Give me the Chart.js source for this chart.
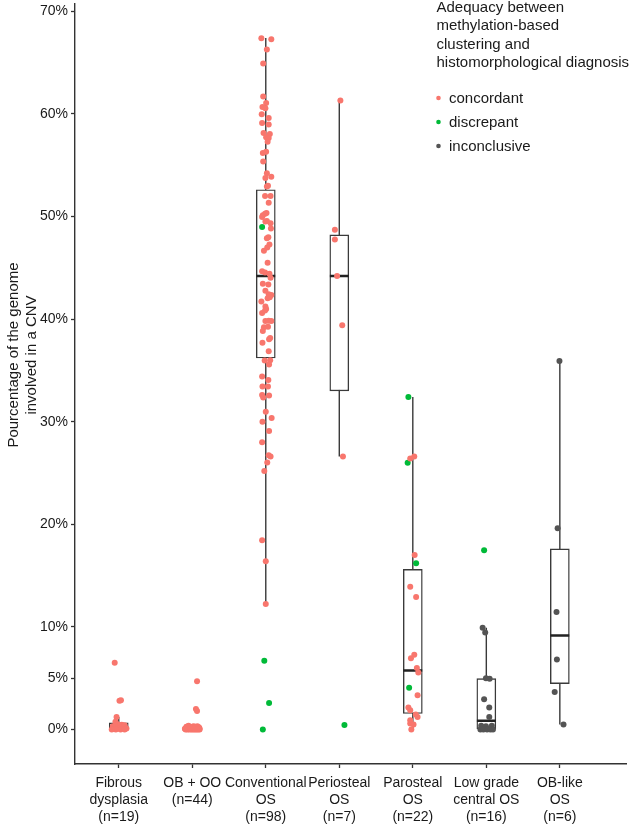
<!DOCTYPE html>
<html>
<head>
<meta charset="utf-8">
<script src="https://cdn.jsdelivr.net/npm/chart.js@4/dist/chart.umd.min.js"></script>
<style>
  html, body { margin: 0; padding: 0; background: #fff; }
  #wrap { width: 630px; height: 824px; }
</style>
</head>
<body>
<div id="wrap"><canvas id="cnv" width="630" height="824"></canvas></div>
<script>
// categories and axis ticks
const categories = [
  ['Fibrous', 'dysplasia', '(n=19)'],
  ['OB + OO', '(n=44)'],
  ['Conventional', 'OS', '(n=98)'],
  ['Periosteal', 'OS', '(n=7)'],
  ['Parosteal', 'OS', '(n=22)'],
  ['Low grade', 'central OS', '(n=16)'],
  ['OB-like', 'OS', '(n=6)'],
];
const yTicks = [0, 5, 10, 20, 30, 40, 50, 60, 70];

// box statistics (% of genome)
const boxQ1 = [0, 0, 36.2, 33.0, 1.55, 0, 4.46];
const boxMedian = [0.08, 0.03, 44.2, 44.2, 5.75, 0.84, 9.15];
const boxQ3 = [0.64, 0.12, 52.6, 48.2, 15.6, 4.95, 17.6];
const whiskerLow = [0, 0, 12.2, 26.6, 0, 0, 0.48];
const whiskerHigh = [1.2, 0.3, 67.4, 61.3, 32.4, 9.92, 35.9];

// samples: [value, jitter, status]  c = concordant, d = discrepant, i = inconclusive
const fibrousPts = [
  [6.5, -0.055, 'c'], [2.8, 0.01, 'c'], [2.85, 0.03, 'c'], [1.2, -0.03, 'c'], [0.75, -0.045, 'c'],
  [0.5, -0.015, 'c'], [0.45, 0.04, 'c'], [0.4, 0.08, 'c'], [0.3, -0.08, 'c'], [0.3, 0.01, 'c'],
  [0.2, -0.04, 'c'], [0.2, 0.065, 'c'], [0.1, -0.015, 'c'], [0.1, 0.105, 'c'], [0.05, -0.07, 'c'],
  [0, 0.025, 'c'], [0, -0.04, 'c'], [0, 0.08, 'c'], [0, -0.095, 'c'],
];
const obooPts = [
  [4.7, 0.065, 'c'], [2.0, 0.05, 'c'], [1.8, 0.065, 'c'],
  [0.35, -0.05, 'c'], [0.3, 0.02, 'c'], [0.3, 0.07, 'c'], [0.25, -0.08, 'c'], [0.25, 0.0, 'c'],
  [0.2, -0.03, 'c'], [0.2, 0.05, 'c'], [0.2, 0.09, 'c'], [0.15, -0.06, 'c'], [0.15, 0.03, 'c'],
  [0.1, -0.09, 'c'], [0.1, -0.01, 'c'], [0.1, 0.06, 'c'], [0.08, 0.1, 'c'], [0.05, -0.07, 'c'],
  [0.05, 0.01, 'c'], [0.05, 0.04, 'c'], [0.05, 0.08, 'c'], [0.03, -0.04, 'c'], [0.02, 0.0, 'c'],
  [0.02, 0.06, 'c'], [0, -0.09, 'c'], [0, -0.06, 'c'], [0, -0.03, 'c'], [0, 0.0, 'c'],
  [0, 0.03, 'c'], [0, 0.05, 'c'], [0, 0.08, 'c'], [0, 0.1, 'c'], [0.01, -0.08, 'c'],
  [0.01, -0.05, 'c'], [0.01, -0.02, 'c'], [0.01, 0.02, 'c'], [0.01, 0.07, 'c'], [0.12, 0.08, 'c'],
  [0.18, -0.02, 'c'], [0.22, 0.04, 'c'], [0.28, -0.06, 'c'], [0.06, -0.1, 'c'], [0.04, 0.09, 'c'],
  [0.07, 0.03, 'c'],
];
const conventionalPts = [
  [67.37, -0.06, 'c'], [67.27, 0.075, 'c'], [66.27, 0.015, 'c'], [64.92, -0.035, 'c'], [61.69, -0.035, 'c'],
  [61.07, 0.005, 'c'], [60.68, -0.045, 'c'], [60.55, -0.005, 'c'], [59.97, -0.055, 'c'], [59.61, 0.04, 'c'],
  [59.1, -0.05, 'c'], [58.97, 0.04, 'c'], [58.13, -0.03, 'c'], [58.03, 0.055, 'c'], [57.71, 0.005, 'c'],
  [57.64, 0.04, 'c'], [57.28, 0.025, 'c'], [56.19, -0.04, 'c'], [56.31, 0.005, 'c'], [55.35, -0.035, 'c'],
  [54.22, 0.015, 'c'], [53.76, -0.005, 'c'], [53.86, 0.075, 'c'], [52.92, 0.015, 'c'], [52.99, 0.03, 'c'],
  [51.99, -0.01, 'c'], [51.99, 0.065, 'c'], [51.34, 0.04, 'c'], [50.11, -0.04, 'c'], [50.27, -0.01, 'c'],
  [50.34, 0.01, 'c'], [49.95, -0.05, 'c'], [48.98, -0.05, 'd'], [49.5, -0.005, 'c'], [49.56, 0.015, 'c'],
  [49.33, 0.065, 'c'], [48.82, 0.07, 'c'], [47.88, 0.015, 'c'], [47.97, 0.035, 'c'], [47.27, 0.05, 'c'],
  [46.97, 0.02, 'c'], [46.65, -0.025, 'c'], [45.5, 0.025, 'c'], [44.65, -0.05, 'c'], [44.55, -0.01, 'c'],
  [44.42, 0.05, 'c'], [44.03, 0.065, 'c'], [43.45, -0.04, 'c'], [43.38, 0.035, 'c'], [42.77, -0.005, 'c'],
  [42.42, 0.04, 'c'], [42.35, 0.075, 'c'], [42.03, 0.025, 'c'], [42.12, 0.055, 'c'], [41.7, -0.06, 'c'],
  [41.22, -0.005, 'c'], [40.99, 0.005, 'c'], [40.6, -0.05, 'c'], [40.83, -0.01, 'c'], [39.8, -0.005, 'c'],
  [39.83, 0.04, 'c'], [39.8, 0.075, 'c'], [39.21, -0.025, 'c'], [39.24, 0.03, 'c'], [38.83, -0.04, 'c'],
  [38.02, 0.045, 'c'], [38.15, 0.06, 'c'], [37.69, -0.045, 'c'], [36.86, 0.04, 'c'], [35.95, -0.015, 'c'],
  [35.98, 0.06, 'c'], [35.56, 0.045, 'c'], [34.39, -0.05, 'c'], [34.07, 0.035, 'c'], [33.42, -0.045, 'c'],
  [33.42, 0.03, 'c'], [32.59, -0.05, 'c'], [32.36, -0.035, 'c'], [32.55, 0.045, 'c'], [30.97, 0.0, 'c'],
  [30.36, 0.08, 'c'], [30.0, -0.045, 'c'], [29.1, 0.045, 'c'], [27.99, -0.05, 'c'], [26.73, 0.04, 'c'],
  [26.61, 0.065, 'c'], [26.02, 0.02, 'c'], [25.18, -0.02, 'c'], [18.43, -0.05, 'c'], [16.39, 0.0, 'c'],
  [12.22, 0.0, 'c'], [6.69, -0.02, 'd'], [2.58, 0.045, 'd'], [0.0, -0.04, 'd'],
];
const periostealPts = [
  [61.3, 0.015, 'c'], [48.7, -0.06, 'c'], [47.75, -0.06, 'c'], [44.2, -0.03, 'c'],
  [39.4, 0.04, 'c'], [26.6, 0.05, 'c'], [0.42, 0.07, 'd'],
];
const parostealPts = [
  [32.4, -0.06, 'd'], [26.4, -0.035, 'c'], [26.6, 0.02, 'c'], [26.0, -0.07, 'd'], [17.0, 0.025, 'c'],
  [16.2, 0.045, 'd'], [13.9, -0.035, 'c'], [12.9, 0.045, 'c'], [7.27, 0.02, 'c'], [6.95, -0.025, 'c'],
  [5.98, 0.055, 'c'], [5.56, 0.075, 'c'], [4.07, -0.05, 'd'], [3.33, 0.065, 'c'], [2.13, -0.06, 'c'],
  [1.87, -0.035, 'c'], [1.45, 0.04, 'c'], [1.22, 0.065, 'c'], [0.9, -0.035, 'c'], [0.58, -0.035, 'c'],
  [0.48, 0.01, 'c'], [0.0, -0.02, 'c'],
];
const lowGradePts = [
  [17.46, -0.03, 'd'], [9.92, -0.05, 'i'], [9.44, -0.015, 'i'], [5.0, -0.005, 'i'], [4.95, 0.045, 'i'],
  [2.94, -0.03, 'i'], [2.13, 0.04, 'i'], [1.22, 0.04, 'i'], [0.35, -0.07, 'i'], [0.3, -0.005, 'i'],
  [0.35, 0.075, 'i'], [0, -0.08, 'i'], [0, -0.04, 'i'], [0, 0.01, 'i'], [0, 0.055, 'i'], [0, 0.09, 'i'],
];
const obLikePts = [
  [35.9, -0.005, 'i'], [19.6, -0.03, 'i'], [11.45, -0.045, 'i'], [6.82, -0.04, 'i'],
  [3.65, -0.07, 'i'], [0.48, 0.05, 'i'],
];
const samples = [fibrousPts, obooPts, conventionalPts, periostealPts, parostealPts, lowGradePts, obLikePts];

const statusNames = { c: 'concordant', d: 'discrepant', i: 'inconclusive' };
const statusColors = { c: '#F8766D', d: '#00BA38', i: '#545454' };

const BOX_PX = 19;
const UNIT_PX = 74.05;
const halfBox = BOX_PX / 2 / UNIT_PX;
const font = '"Liberation Sans", Arial, sans-serif';
Chart.defaults.font.family = font;

function pointsFor(code) {
  const out = [];
  samples.forEach((list, i) => {
    list.forEach(([v, j, s]) => { if (s === code) out.push({ x: i + j, y: v }); });
  });
  return out;
}

const whiskerData = [];
const medianData = [];
const boxData = [];
categories.forEach((c, i) => {
  whiskerData.push({ x: i, y: whiskerLow[i] }, { x: i, y: whiskerHigh[i] }, { x: i, y: null });
  medianData.push({ x: i - halfBox, y: boxMedian[i] }, { x: i + halfBox, y: boxMedian[i] }, { x: i, y: null });
  boxData.push({ x: i, y: [boxQ1[i], boxQ3[i]] });
});

const scatterSets = ['c', 'd', 'i'].map(code => ({
  type: 'scatter',
  label: statusNames[code],
  data: pointsFor(code),
  backgroundColor: statusColors[code],
  pointRadius: 3,
  pointBorderWidth: 0,
  order: 0,
}));

const overlay = {
  id: 'overlay',
  afterDraw(chart) {
    const ctx = chart.ctx;
    ctx.save();
    ctx.fillStyle = '#1a1a1a';
    ctx.font = '15px ' + font;
    ctx.textBaseline = 'middle';
    // legend
    const titleLines = ['Adequacy between', 'methylation-based', 'clustering and', 'histomorphological diagnosis'];
    titleLines.forEach((t, k) => ctx.fillText(t, 436.5, 8 + k * 18.3));
    ['c', 'd', 'i'].forEach((code, k) => {
      const y = 98 + k * 24;
      ctx.beginPath();
      ctx.fillStyle = statusColors[code];
      ctx.arc(438.5, y, 2.3, 0, Math.PI * 2);
      ctx.fill();
      ctx.fillStyle = '#1a1a1a';
      ctx.fillText(statusNames[code], 449, y + 0.5);
    });
    // y axis title
    ctx.translate(14, 355);
    ctx.rotate(-Math.PI / 2);
    ctx.textAlign = 'center';
    ctx.fillText('Pourcentage of the genome', 0, 0);
    ctx.fillText('involved in a CNV', 0, 17.5);
    ctx.restore();
  },
};

new Chart(document.getElementById('cnv'), {
  type: 'scatter',
  data: {
    datasets: [
      ...scatterSets,
      {
        type: 'line',
        label: 'median',
        data: medianData,
        borderColor: '#222',
        borderWidth: 2.6,
        pointRadius: 0,
        spanGaps: false,
        order: 1,
      },
      {
        type: 'bar',
        label: 'box',
        data: boxData,
        backgroundColor: '#ffffff',
        borderColor: '#3a3a3a',
        borderWidth: 1.4,
        borderSkipped: false,
        barThickness: BOX_PX,
        grouped: false,
        order: 2,
      },
      {
        type: 'line',
        label: 'whisker',
        data: whiskerData,
        borderColor: '#3a3a3a',
        borderWidth: 1.4,
        pointRadius: 0,
        spanGaps: false,
        order: 3,
      },
    ],
  },
  options: {
    responsive: false,
    animation: false,
    layout: { padding: 0 },
    plugins: { legend: { display: false }, tooltip: { enabled: false } },
    scales: {
      x: {
        type: 'linear',
        min: -0.595,
        max: 6.9,
        offset: false,
        afterBuildTicks: scale => { scale.ticks = categories.map((c, i) => ({ value: i })); },
        afterFit: scale => { scale.height = 60; scale.paddingLeft = 0; scale.paddingRight = 0; },
        ticks: {
          callback: (v) => categories[v],
          color: '#1a1a1a',
          font: { size: 14, lineHeight: 1.2 },
          padding: 7,
          maxRotation: 0,
          autoSkip: false,
        },
        grid: { offset: false, drawOnChartArea: false, drawTicks: true, tickLength: 4, tickColor: '#333', tickWidth: 1.3 },
        border: { color: '#333', width: 1.4 },
      },
      y: {
        min: -3.37,
        max: 70.71,
        afterBuildTicks: scale => { scale.ticks = yTicks.map(v => ({ value: v })); },
        afterFit: scale => { scale.width = 75; scale.paddingTop = 0; scale.paddingBottom = 0; },
        ticks: {
          callback: v => v + '%',
          color: '#1a1a1a',
          font: { size: 14 },
          padding: 3,
        },
        grid: { drawOnChartArea: false, drawTicks: true, tickLength: 4, tickColor: '#333', tickWidth: 1.3 },
        border: { color: '#333', width: 1.4 },
      },
    },
  },
  plugins: [overlay],
});
</script>
</body>
</html>
